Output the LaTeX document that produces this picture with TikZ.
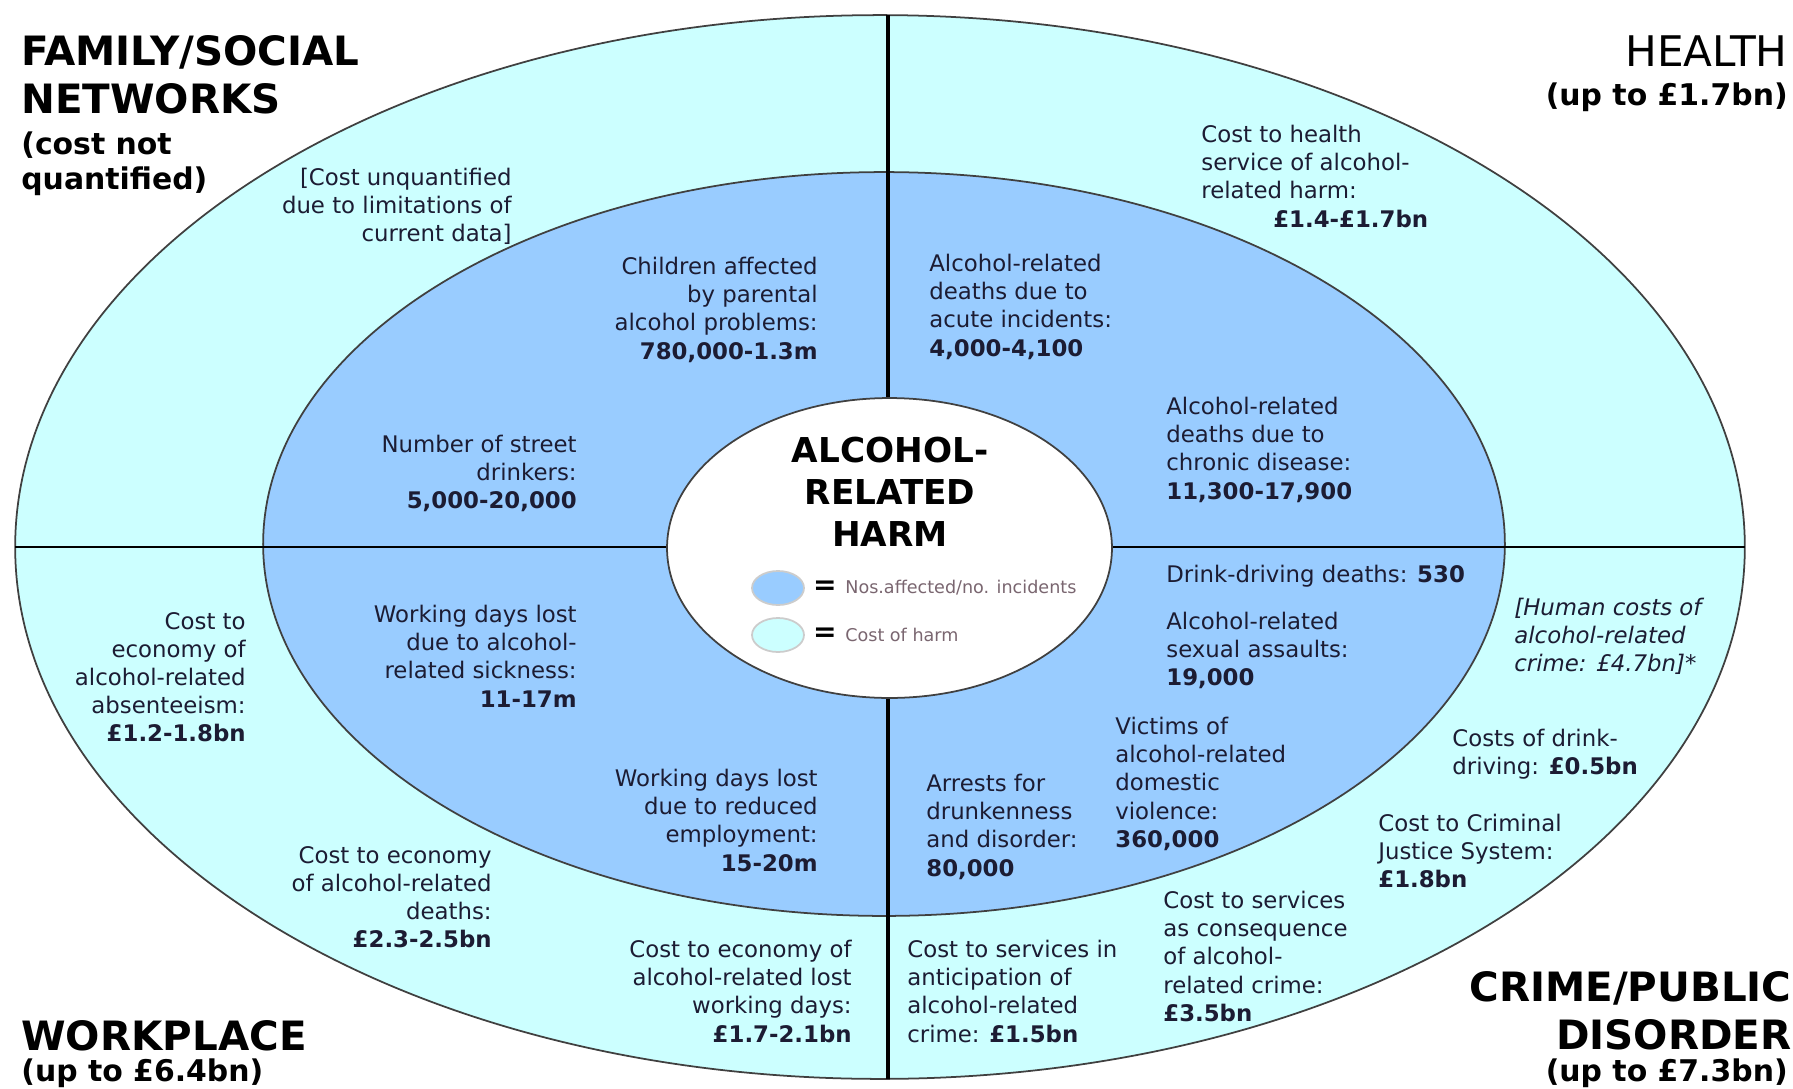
\documentclass[tikz,border=0pt]{standalone}
\usepackage{fontspec}
\setmainfont{DejaVu Sans}
\usetikzlibrary{positioning}
\definecolor{costcyan}{HTML}{CCFFFF}
\definecolor{numblue}{HTML}{99CCFF}
\definecolor{txtdark}{HTML}{1C1C33}
\definecolor{legendtxt}{HTML}{7A6670}
\tikzset{
  numtext/.style={font=\fontsize{13}{16}\selectfont,text=txtdark,inner sep=0pt},
  leftblock/.style={numtext,align=left,anchor=north west},
  rightblock/.style={numtext,align=right,anchor=north east},
  heading/.style={font=\fontsize{23}{27.5}\selectfont\bfseries,inner sep=0pt},
  subheading/.style={font=\fontsize{17}{20}\selectfont\bfseries,inner sep=0pt},
  ring/.style={draw=black!75,line width=1pt},
  keyblob/.style={draw=black!20,line width=1pt}
}

\begin{document}
\begin{tikzpicture}[x=0.02cm,y=-0.02cm]
  \useasboundingbox (0,0) rectangle (1793,1089);
  % Rings
  \fill[costcyan] (880,547) ellipse [x radius=17.3cm,y radius=10.64cm];
  \draw[ring] (880,547) ellipse [x radius=17.3cm,y radius=10.64cm];
  \fill[numblue] (884,544) ellipse [x radius=12.42cm,y radius=7.44cm];
  \draw[ring] (884,544) ellipse [x radius=12.42cm,y radius=7.44cm];
  % Quadrant lines
  \coordinate (vtop) at (888,15);
  \coordinate (vbot) at (888,1079);
  \coordinate (hleft) at (15,547);
  \coordinate (hright) at (1745,547);
  \draw[line width=1.8pt] (vtop) -- (vbot);
  \draw[line width=1.2pt] (hleft) -- (hright);
  % Centre
  \fill[white] (889.5,548) ellipse [x radius=4.45cm,y radius=3cm];
  \draw[ring] (889.5,548) ellipse [x radius=4.45cm,y radius=3cm];
  \node[font=\fontsize{19.5}{23.8}\selectfont\bfseries,align=center,inner sep=0pt] (harm) at (890,492) {ALCOHOL-\\RELATED\\HARM};
  % Key
  \filldraw[keyblob,fill=numblue] (778,588) ellipse [x radius=0.52cm,y radius=0.34cm];
  \filldraw[keyblob,fill=costcyan] (778,635) ellipse [x radius=0.52cm,y radius=0.34cm];
  \node[font=\fontsize{16}{16}\selectfont\bfseries,inner sep=0pt] (eqnum) at (825,588) {=};
  \node[font=\fontsize{16}{16}\selectfont\bfseries,inner sep=0pt] (eqcost) at (825,635) {=};
  \node[font=\fontsize{10}{11}\selectfont,text=legendtxt,anchor=west,inner sep=0pt] (keynum) at (845,588) {Nos.affected/no. incidents};
  \node[font=\fontsize{10}{11}\selectfont,text=legendtxt,anchor=west,inner sep=0pt] (keycost) at (845,635) {Cost of harm};

  % Headings
  \node[heading,align=left,anchor=north west] (famhead) at (21,35) {FAMILY/SOCIAL\\NETWORKS};
  \node[subheading,align=left,anchor=north west] (famsub) at (21,131) {(cost not\\quantified)};
  \node[font=\fontsize{24}{28}\selectfont,inner sep=0pt,anchor=north east] (healthhead) at (1788,35) {HEALTH};
  \node[subheading,anchor=north east] (healthsub) at (1788,82) {(up to £1.7bn)};
  \node[heading,anchor=north west] (workhead) at (21,1020) {WORKPLACE};
  \node[subheading,anchor=north west] (worksub) at (21,1058) {(up to £6.4bn)};
  \node[heading,align=right,anchor=north east] (crimehead) at (1792,971) {CRIME/PUBLIC\\DISORDER};
  \node[subheading,anchor=north east] (crimesub) at (1788,1058) {(up to £7.3bn)};

  % Family / social networks
  \node[rightblock] (unquant) at (512,168) {[Cost unquantified\\due to limitations of\\current data]};
  \node[rightblock] (children) at (818,257) {Children affected\\by parental\\alcohol problems:\\\textbf{780,000-1.3m}};
  \node[rightblock] (street) at (577,435) {Number of street\\drinkers:\\\textbf{5,000-20,000}};

  % Health
  \node[leftblock] (healthcost) at (1201,125) {Cost to health\\service of alcohol-\\related harm:\\\hspace*{1.44cm}\textbf{£1.4-£1.7bn}};
  \node[leftblock] (acute) at (929,254) {Alcohol-related\\deaths due to\\acute incidents:\\\textbf{4,000-4,100}};
  \node[leftblock] (chronic) at (1166,397) {Alcohol-related\\deaths due to\\chronic disease:\\\textbf{11,300-17,900}};

  % Crime / public disorder
  \node[leftblock] (ddeaths) at (1166,565) {Drink-driving deaths: \textbf{530}};
  \node[leftblock] (assaults) at (1166,612) {Alcohol-related\\sexual assaults:\\\textbf{19,000}};
  \node[leftblock] (domestic) at (1115,717) {Victims of\\alcohol-related\\domestic\\violence:\\\textbf{360,000}};
  \node[leftblock] (arrests) at (926,774) {Arrests for\\drunkenness\\and disorder:\\\textbf{80,000}};
  \node[leftblock,font=\fontsize{13}{16}\selectfont\itshape] (human) at (1514,598) {[Human costs of\\alcohol-related\\crime: £4.7bn]*};
  \node[leftblock] (ddcost) at (1452,729) {Costs of drink-\\driving: \textbf{£0.5bn}};
  \node[leftblock] (cjs) at (1378,814) {Cost to Criminal\\Justice System:\\\textbf{£1.8bn}};
  \node[leftblock] (consequence) at (1163,891) {Cost to services\\as consequence\\of alcohol-\\related crime:\\\textbf{£3.5bn}};
  \node[leftblock] (anticipation) at (907,940) {Cost to services in\\anticipation of\\alcohol-related\\crime: \textbf{£1.5bn}};

  % Workplace
  \node[rightblock] (sickness) at (577,605) {Working days lost\\due to alcohol-\\related sickness:\\\textbf{11-17m}};
  \node[rightblock] (employment) at (818,769) {Working days lost\\due to reduced\\employment:\\\textbf{15-20m}};
  \node[rightblock] (absence) at (246,612) {Cost to\\economy of\\alcohol-related\\absenteeism:\\\textbf{£1.2-1.8bn}};
  \node[rightblock] (wdeaths) at (492,846) {Cost to economy\\of alcohol-related\\deaths:\\\textbf{£2.3-2.5bn}};
  \node[rightblock] (lostdays) at (852,940) {Cost to economy of\\alcohol-related lost\\working days:\\\textbf{£1.7-2.1bn}};
\end{tikzpicture}
\end{document}
